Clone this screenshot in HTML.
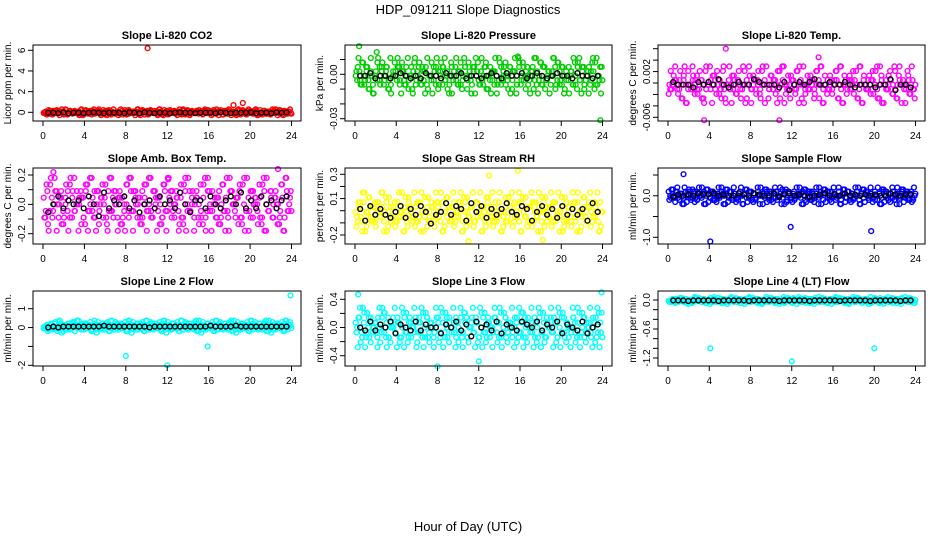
<!DOCTYPE html>
<html><head><meta charset="utf-8">
<style>
html,body{margin:0;padding:0;background:#fff;}
svg{display:block;font-family:"Liberation Sans",sans-serif;}
</style></head>
<body>
<svg id="chart" width="936" height="540" viewBox="0 0 936 540" xmlns="http://www.w3.org/2000/svg">
<text x="468" y="14" font-size="13" text-anchor="middle">HDP_091211  Slope Diagnostics</text>
<text x="468" y="531" font-size="13" text-anchor="middle">Hour of Day (UTC)</text>
</svg>
<script>
// ---- data (hand-read, quantized digits: value = center + (digit-5)*step) ----
const panelTitles = ["Slope Li-820 CO2","Slope Li-820 Pressure","Slope Li-820 Temp.","Slope Amb. Box Temp.","Slope Gas Stream RH","Slope Sample Flow","Slope Line 2 Flow","Slope Line 3 Flow","Slope Line 4 (LT) Flow"];
const yTitles = ["Licor ppm per min.","kPa per min.","degrees C per min.","degrees C per min.","percent per min.","ml/min per min.","ml/min per min.","ml/min per min.","ml/min per min."];
const colors = ["#ff0000","#00cc00","#ff00ff","#ff00ff","#ffff00","#0000ff","#00ffff","#00ffff","#00ffff"];
const centers = [0,-0.001,-0.0003,0,-0.01,0,0.05,0,-0.02];
const steps = [0.07,0.003,0.0008,0.045,0.04,0.05,0.08,0.07,0.02];
const seriesA = [
"463725846392754638175629473561829463752846193756284739516284736592817463529471836527491638475296381457362948571639",
"574836291584736295847163952847361958472639518473629584716395827461935847261938574629183746592837164538291746382951",
"385946271859374628591736482591736458291746385927461859372648159374628591734658291736485291746385927164839275618394",
"642839157264839517628493175862493716258491736258493716284957361829475163829471536284917536829417365829147365281946",
"537192846375918264739518264937158246397512864935718246937516284935712846935718426937158264973518246397152846937512",
"748293615748239561847329561874923516847239156847293516874239561847329156874293516847239516874923561874293156847329",
"452637485263748596374625384756293847562938475629384756293847562938475692384756293847569238475629384756923847562938",
"619384725619483725916384275916483725196384725916438725916384275196384725916348725916384275916384725196384725916384",
"547365847263958473625948736259487362594873625948736259487362954873625948736259487362594873652948736259487362594873"];
const seriesB = [
"528374619283746519283746591827364519283746591827364519283746519283745678675846591827364519283746591827364591827364",
"693847251693847215693847251968347251693874251693847251698347251693847521693847251693487251693847251693847251698347",
"547638291547638219547683291547638291574638291547638291547638921547638291547368291547638291547638291547638291547362",
"381947562381974562381947526381947562318947562381947562381974562381947562381947562381497562381947562381947562381947",
"274915836274951836274915863274915836274915836247915836274915836274915386274915836274915836274951836274915836274915",
"385746192837465918273645918273645918273645918273645981273645918273645918273465918273645918273645918273645918273645",
"563748291637482956374829163748295637482916374829563748291637482956374829163748295637482916374829563748291637482956",
"472918365472981365472918365427918365472918365472918356472918365472918365472981365472918365472918365472918365472918",
"465748573645857463584756374685746357486574635748657463574865746357486574635748657463574865746357486574635748657463"];
const seriesC = [
"45364756354637463546573645376453647563546374563745364573645637453647563745364756374653746357463547653746357463",
"46357463547657436574635476354763547365746375463574637546375463547635746375463574653746357463547635746357463574",
"45654565456545654565456545654565456545654565456545654565456545654565456545654565456545654565456545654565456545",
"37465736457364756374563746537465376453746537645376453746357463754637546375463754637546735463754637546375463754",
"46375463754637546375463754637546375463754637546375463754637546375463754637546375463754637546375463754637546375",
"56473647564736475647364756473647564736475647364756473647564736475647364756473647564736475647364756473647564736",
"45364537645376453764537645376453764537645376453764537645376453764537645376453764537645376453764537645376453764",
"57463574635746357463574635746357463574635746357463574635746357463574635746357463574635746357463574635746357463",
"56475647564756475647564756475647564756475647564756475647564756475647564756475647564756475647564756475647564756"];
const blackSeries = [
"443534434543444354354344345443444354344453443545",
"556455456545465546556455456546556456545655465545",
"655546565754565576555463565675565565455545573554",
"357465647528465746356475648536647546758464756467",
"627464357364751458476285736468547625746374646285",
"465657667565576576557467565456756575656565576566",
"454555555556555555554555555555556555565555555555",
"547465736547465536574627564736547657465736547356",
"666566666566666566666566666566666566666566666566"];
const outlierHours = [[10.1,19.3,18.4],[0.4,23.8,15.8,2.1],[3.5,10.8,5.6,14.6],[1.0,12.1,22.7],[15.8,13.0,11.0,18.2],[4.1,19.7,11.9,1.5],[8.0,12.0,15.9,23.9],[0.3,8.0,12.0,23.9],[4.1,12.0,20.0]];
const outlierVals = [[6.2,0.9,0.7],[0.019,-0.031,0.012,0.015],[-0.0065,-0.0065,0.0060,0.0045],[0.22,0.17,0.24],[0.33,0.29,-0.25,-0.24],[-1.1,-0.85,-0.75,0.52],[-1.5,-2.0,-1.0,1.7],[0.47,-0.55,-0.48,0.5],[-1.0,-1.27,-1.0]];
const tickVals = [[0,2,4,6],[0.01,0,-0.01,-0.02,-0.03],[0.006,0.004,0.002,0,-0.002,-0.004,-0.006],[0.2,0.1,0,-0.1,-0.2],[0.3,0.2,0.1,0,-0.1,-0.2],[0.5,0,-0.5,-1],[1,0,-1,-2],[0.4,0.2,0,-0.2,-0.4],[0,-0.2,-0.4,-0.6,-0.8,-1,-1.2]];
const tickLabels = [["0","2","4","6"],["","0.00","","","-0.03"],["","","0.002","","","","-0.006"],["0.2","","0.0","","-0.2"],["0.3","","0.1","","","-0.2"],["","0.0","","-1.0"],["1","0","","-2"],["0.4","","0.0","","-0.4"],["0.0","","","-0.6","","","-1.2"]];
const xTicks = [0,4,8,12,16,20,24];

// ---- geometry ----
const colX0=[33,345,658], colX1=[301,612,925];
const rowY0=[45,168,291], rowY1=[121,244,366];
const yCal=[[0,112.3,6,50.3],[0,74.3,-0.03,118.7],[0,83,-0.006,117.3],[0.2,175,-0.2,233.7],[0.3,174.3,-0.2,235],[0.5,175,-1,237.3],[1,308.7,-2,365.3],[0.4,299.3,-0.4,355.7],[0,300,-1.2,358]];
const NS="http://www.w3.org/2000/svg";
const svg=document.getElementById('chart');
function mk(tag,attrs,parent){const e=document.createElementNS(NS,tag);for(const k in attrs)e.setAttribute(k,attrs[k]);(parent||svg).appendChild(e);return e;}

for(let p=0;p<9;p++){
  const c=p%3, r=Math.floor(p/3);
  const x0=colX0[c],x1=colX1[c],y0=rowY0[r],y1=rowY1[r];
  const xs=h=>x0+10+h*(x1-x0-19.5)/24;
  const cal=yCal[p];
  const ys=v=>cal[1]+(v-cal[0])*(cal[3]-cal[1])/(cal[2]-cal[0]);
  const g=mk('g',{});
  
  
  const cid='clip'+p;
  const cp=mk('clipPath',{id:cid},g);mk('rect',{x:x0,y:y0-4,width:x1-x0,height:y1-y0+8},cp);
  const pts=mk('g',{'clip-path':'url(#'+cid+')',fill:'none','stroke-width':1.4},g);
  
  
  const draw=(h,v,col)=>{const e=mk('circle',{cx:xs(h).toFixed(1),cy:ys(v).toFixed(1),r:2.4,stroke:col},pts);
    
    };
  [seriesA[p],seriesB[p],seriesC[p]].forEach((s,k)=>{const n=s.length;for(let i=0;i<n;i++){const h=24*(i+0.3+0.33*k)/n;draw(h,centers[p]+(+s[i]-5)*steps[p],colors[p]);}});
  outlierHours[p].forEach((h,i)=>draw(h,outlierVals[p][i],colors[p]));
  const b=blackSeries[p];for(let i=0;i<b.length;i++){draw(0.5+i*0.49,centers[p]+(+b[i]-5)*steps[p]*0.6,'#000');}
  const box=mk('rect',{x:x0,y:y0,width:x1-x0,height:y1-y0,fill:'none',stroke:'#000','stroke-width':1},g);
  
  
  const t=mk('text',{x:(x0+x1)/2,y:y0-6,'font-size':11,'font-weight':'bold','text-anchor':'middle'},g);t.textContent=panelTitles[p];
  
  
  const yc=(y0+y1)/2;
  const yt=mk('text',{x:0,y:0,'font-size':10,'text-anchor':'middle',transform:`translate(${x0-22},${yc}) rotate(-90)`},g);yt.textContent=yTitles[p];
  
  
  xTicks.forEach(h=>{const X=xs(h);mk('line',{x1:X,x2:X,y1:y1,y2:y1+5,stroke:'#000'},g);
    const l=mk('text',{x:X,y:y1+18,'font-size':10,'text-anchor':'middle'},g);l.textContent=h;
    
    });
  tickVals[p].forEach((v,i)=>{const Y=ys(v);mk('line',{x1:x0-5,x2:x0,y1:Y,y2:Y,stroke:'#000'},g);
    if(tickLabels[p][i]){const l=mk('text',{x:0,y:0,'font-size':10,'text-anchor':'middle',transform:`translate(${x0-8},${Y}) rotate(-90)`},g);l.textContent=tickLabels[p][i];
    
    }});
}
</script>
</body></html>
